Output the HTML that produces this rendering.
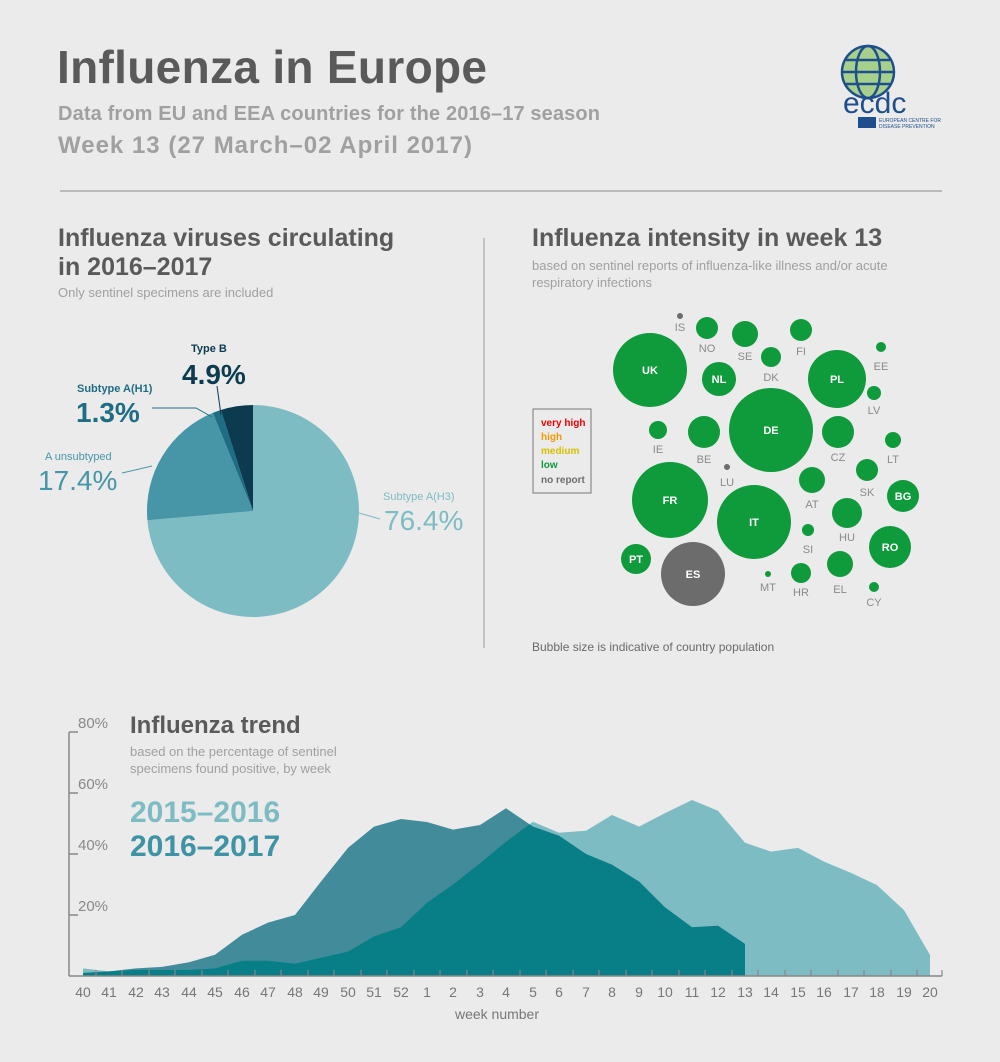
<!DOCTYPE html>
<html><head><meta charset="utf-8"><style>
body{margin:0;background:#ebebeb;}
svg{display:block;font-family:"Liberation Sans",sans-serif;}
</style></head><body>
<svg width="1000" height="1062" viewBox="0 0 1000 1062">
<rect width="1000" height="1062" fill="#ebebeb"/>
<text x="57" y="83" font-size="46" font-weight="bold" fill="#5a5a5a" textLength="430">Influenza in Europe</text>
<text x="58" y="120" font-size="20" font-weight="bold" fill="#a0a0a0" textLength="542">Data from EU and EEA countries for the 2016–17 season</text>
<text x="58" y="153" font-size="24" font-weight="bold" fill="#a0a0a0" textLength="414">Week 13 (27 March–02 April 2017)</text>
<g>
<circle cx="868" cy="72" r="26" fill="#a8d08d"/>
<g fill="none" stroke="#1f4e8c" stroke-width="2.5"><circle cx="868" cy="72" r="26"/><ellipse cx="868" cy="72" rx="12" ry="26"/><line x1="842" y1="72" x2="894" y2="72"/><line x1="846" y1="60" x2="890" y2="60"/><line x1="846" y1="84" x2="890" y2="84"/></g>
<text x="843" y="113" font-size="30" fill="#1f4e8c" font-family="Liberation Sans">ecdc</text>
<rect x="858" y="117" width="18" height="11" fill="#1f4e8c"/>
<text x="879" y="122" font-size="5" fill="#1f4e8c">EUROPEAN CENTRE FOR</text>
<text x="879" y="128" font-size="5" fill="#1f4e8c">DISEASE PREVENTION</text>
</g>
<line x1="60" y1="191" x2="942" y2="191" stroke="#888" stroke-width="1"/>
<line x1="484" y1="238" x2="484" y2="648" stroke="#999" stroke-width="1"/>
<text x="58" y="246" font-size="25" font-weight="bold" fill="#5a5a5a">Influenza viruses circulating</text>
<text x="58" y="275" font-size="25" font-weight="bold" fill="#5a5a5a">in 2016–2017</text>
<text x="58" y="297" font-size="13" fill="#a0a0a0">Only sentinel specimens are included</text>
<g transform="translate(253,511)">
<path d="M0,0 L0,-106 A106,106 0 1 1 -105.6,9.2 Z" fill="#7dbcc3"/>
<path d="M0,0 L-105.6,9.2 A106,106 0 0 1 -40.2,-98.1 Z" fill="#4696a8"/>
<path d="M0,0 L-40.2,-98.1 A106,106 0 0 1 -32.1,-101 Z" fill="#1f6d84"/>
<path d="M0,0 L-32.1,-101 A106,106 0 0 1 0,-106 Z" fill="#0c3b50"/>
</g>
<text x="191" y="352" font-size="11" font-weight="bold" fill="#0c3b50">Type B</text>
<text x="182" y="384" font-size="28" font-weight="bold" fill="#0c3b50">4.9%</text>
<line x1="217" y1="386" x2="221" y2="415" stroke="#0c3b50"/>
<text x="77" y="392" font-size="11" font-weight="bold" fill="#1f6d84">Subtype A(H1)</text>
<text x="76" y="422" font-size="28" font-weight="bold" fill="#1f6d84">1.3%</text>
<polyline points="152,408 196,408 212,417" fill="none" stroke="#1f6d84"/>
<text x="45" y="460" font-size="11" fill="#4696a8">A unsubtyped</text>
<text x="38" y="490" font-size="28" fill="#4696a8">17.4%</text>
<line x1="122" y1="473" x2="152" y2="466" stroke="#4696a8"/>
<text x="383" y="500" font-size="11" fill="#7dbcc3">Subtype A(H3)</text>
<text x="384" y="530" font-size="28" fill="#7dbcc3">76.4%</text>
<line x1="359" y1="513" x2="380" y2="519" stroke="#7dbcc3"/>
<text x="532" y="246" font-size="25" font-weight="bold" fill="#5a5a5a">Influenza intensity in week 13</text>
<text x="532" y="270" font-size="13" fill="#a0a0a0">based on sentinel reports of influenza-like illness and/or acute</text>
<text x="532" y="287" font-size="13" fill="#a0a0a0">respiratory infections</text>
<g fill="#0f9a3c">
<circle cx="650" cy="370" r="37"/><circle cx="707" cy="328" r="11"/><circle cx="745" cy="334" r="13"/><circle cx="801" cy="330" r="11"/><circle cx="881" cy="347" r="5"/>
<circle cx="719" cy="379" r="17"/><circle cx="771" cy="357" r="10"/><circle cx="837" cy="379" r="29"/><circle cx="874" cy="393" r="7"/>
<circle cx="658" cy="430" r="9"/><circle cx="704" cy="432" r="16"/><circle cx="771" cy="430" r="42"/><circle cx="838" cy="432" r="16"/><circle cx="893" cy="440" r="8"/>
<circle cx="670" cy="500" r="38"/><circle cx="754" cy="522" r="37"/><circle cx="812" cy="480" r="13"/><circle cx="867" cy="470" r="11"/><circle cx="903" cy="496" r="16"/>
<circle cx="847" cy="513" r="15"/><circle cx="808" cy="530" r="6"/><circle cx="890" cy="547" r="21"/><circle cx="636" cy="559" r="15"/>
<circle cx="768" cy="574" r="3"/><circle cx="801" cy="573" r="10"/><circle cx="840" cy="564" r="13"/><circle cx="874" cy="587" r="5"/>
</g>
<circle cx="693" cy="574" r="32" fill="#6c6c6c"/><circle cx="680" cy="316" r="3" fill="#6c6c6c"/><circle cx="727" cy="467" r="3" fill="#6c6c6c"/>
<g font-size="11" fill="#fff" text-anchor="middle" font-weight="bold">
<text x="650" y="374">UK</text><text x="719" y="383">NL</text><text x="837" y="383">PL</text><text x="771" y="434">DE</text><text x="670" y="504">FR</text><text x="754" y="526">IT</text><text x="903" y="500">BG</text><text x="890" y="551">RO</text><text x="636" y="563">PT</text><text x="693" y="578">ES</text>
</g>
<g font-size="11" fill="#8a8a8a" text-anchor="middle">
<text x="680" y="331">IS</text><text x="707" y="352">NO</text><text x="745" y="360">SE</text><text x="801" y="355">FI</text><text x="881" y="370">EE</text><text x="771" y="381">DK</text><text x="874" y="414">LV</text>
<text x="658" y="453">IE</text><text x="704" y="463">BE</text><text x="838" y="461">CZ</text><text x="893" y="463">LT</text><text x="727" y="486">LU</text><text x="812" y="508">AT</text><text x="867" y="496">SK</text>
<text x="847" y="541">HU</text><text x="808" y="553">SI</text><text x="768" y="591">MT</text><text x="801" y="596">HR</text><text x="840" y="593">EL</text><text x="874" y="606">CY</text>
</g>
<rect x="533" y="409" width="58" height="84" fill="none" stroke="#777"/>
<g font-size="10" font-weight="bold"><text x="541" y="426" fill="#e00">very high</text><text x="541" y="440" fill="#f29a00">high</text><text x="541" y="454" fill="#d8c000">medium</text><text x="541" y="468" fill="#0f9a3c">low</text><text x="541" y="483" fill="#6c6c6c">no report</text></g>
<text x="532" y="651" font-size="12" fill="#6a6a6a">Bubble size is indicative of country population</text>
<defs>
<clipPath id="dk"><polygon points="83,973 109,971.4 136,968.4 162,966.9 189,962.3 215,954.7 242,934.8 268,922.6 295,915 321,881.5 348,847.9 374,826.6 401,819 427,822 453,829.6 480,825 506,808.3 533,826.6 559,835.7 586,854 612,864.7 639,881.5 665,907.4 692,927.2 718,925.7 745,944 745,976 83,976"/></clipPath>
</defs>
<polygon points="83,968.4 109,971.4 136,970 162,970 189,970 215,968.4 242,960.8 268,960.8 295,963.8 321,957.7 348,951.6 374,936.4 401,927.2 427,902.8 453,884.5 480,863.2 506,841.8 533,821.7 559,832.7 586,830.8 612,815 639,826.6 665,813.1 692,800 718,810.7 745,842.7 771,851.6 798,847.9 824,861.6 851,872.9 877,885.1 904,910.1 930,955 930,976 83,976" fill="#7dbcc3"/>
<polygon points="83,973 109,971.4 136,968.4 162,966.9 189,962.3 215,954.7 242,934.8 268,922.6 295,915 321,881.5 348,847.9 374,826.6 401,819 427,822 453,829.6 480,825 506,808.3 533,826.6 559,835.7 586,854 612,864.7 639,881.5 665,907.4 692,927.2 718,925.7 745,944 745,976 83,976" fill="#428b9b"/>
<polygon clip-path="url(#dk)" points="83,968.4 109,971.4 136,970 162,970 189,970 215,968.4 242,960.8 268,960.8 295,963.8 321,957.7 348,951.6 374,936.4 401,927.2 427,902.8 453,884.5 480,863.2 506,841.8 533,821.7 559,832.7 586,830.8 612,815 639,826.6 665,813.1 692,800 718,810.7 745,842.7 771,851.6 798,847.9 824,861.6 851,872.9 877,885.1 904,910.1 930,955 930,976 83,976" fill="#087f86"/>
<g stroke="#888" stroke-width="1.5" fill="none">
<line x1="69" y1="732" x2="69" y2="976"/><line x1="69" y1="976" x2="942" y2="976"/>
<line x1="69" y1="732" x2="78" y2="732"/><line x1="69" y1="793" x2="78" y2="793"/><line x1="69" y1="854" x2="78" y2="854"/><line x1="69" y1="915" x2="78" y2="915"/>
</g>
<g font-size="15" fill="#888"><text x="78" y="728">80%</text><text x="78" y="789">60%</text><text x="78" y="850">40%</text><text x="78" y="911">20%</text></g>
<text x="130" y="733" font-size="24" font-weight="bold" fill="#5a5a5a">Influenza trend</text>
<text x="130" y="756" font-size="13" fill="#a0a0a0">based on the percentage of sentinel</text>
<text x="130" y="773" font-size="13" fill="#a0a0a0">specimens found positive, by week</text>
<text x="130" y="822" font-size="30" font-weight="bold" fill="#7dbcc3">2015–2016</text>
<text x="130" y="856" font-size="30" font-weight="bold" fill="#3e93a5">2016–2017</text>
<g font-size="14" fill="#777" text-anchor="middle">
<text x="83" y="997">40</text><text x="109" y="997">41</text><text x="136" y="997">42</text><text x="162" y="997">43</text><text x="189" y="997">44</text><text x="215" y="997">45</text><text x="242" y="997">46</text><text x="268" y="997">47</text><text x="295" y="997">48</text><text x="321" y="997">49</text><text x="348" y="997">50</text><text x="374" y="997">51</text><text x="401" y="997">52</text><text x="427" y="997">1</text><text x="453" y="997">2</text><text x="480" y="997">3</text><text x="506" y="997">4</text><text x="533" y="997">5</text><text x="559" y="997">6</text><text x="586" y="997">7</text><text x="612" y="997">8</text><text x="639" y="997">9</text><text x="665" y="997">10</text><text x="692" y="997">11</text><text x="718" y="997">12</text><text x="745" y="997">13</text><text x="771" y="997">14</text><text x="798" y="997">15</text><text x="824" y="997">16</text><text x="851" y="997">17</text><text x="877" y="997">18</text><text x="904" y="997">19</text><text x="930" y="997">20</text>
</g>
<g stroke="#888" stroke-width="1.2">
<line x1="96" y1="970" x2="96" y2="976"/><line x1="122" y1="970" x2="122" y2="976"/><line x1="149" y1="970" x2="149" y2="976"/><line x1="175" y1="970" x2="175" y2="976"/><line x1="202" y1="970" x2="202" y2="976"/><line x1="228" y1="970" x2="228" y2="976"/><line x1="255" y1="970" x2="255" y2="976"/><line x1="281" y1="970" x2="281" y2="976"/><line x1="308" y1="970" x2="308" y2="976"/><line x1="334" y1="970" x2="334" y2="976"/><line x1="361" y1="970" x2="361" y2="976"/><line x1="387" y1="970" x2="387" y2="976"/><line x1="414" y1="970" x2="414" y2="976"/><line x1="440" y1="970" x2="440" y2="976"/><line x1="467" y1="970" x2="467" y2="976"/><line x1="493" y1="970" x2="493" y2="976"/><line x1="520" y1="970" x2="520" y2="976"/><line x1="546" y1="970" x2="546" y2="976"/><line x1="573" y1="970" x2="573" y2="976"/><line x1="599" y1="970" x2="599" y2="976"/><line x1="626" y1="970" x2="626" y2="976"/><line x1="652" y1="970" x2="652" y2="976"/><line x1="679" y1="970" x2="679" y2="976"/><line x1="705" y1="970" x2="705" y2="976"/><line x1="732" y1="970" x2="732" y2="976"/><line x1="758" y1="970" x2="758" y2="976"/><line x1="785" y1="970" x2="785" y2="976"/><line x1="811" y1="970" x2="811" y2="976"/><line x1="838" y1="970" x2="838" y2="976"/><line x1="864" y1="970" x2="864" y2="976"/><line x1="891" y1="970" x2="891" y2="976"/><line x1="917" y1="970" x2="917" y2="976"/><line x1="942" y1="970" x2="942" y2="976"/>
</g>
<text x="497" y="1019" font-size="14" fill="#777" text-anchor="middle">week number</text>
</svg>
</body></html>
